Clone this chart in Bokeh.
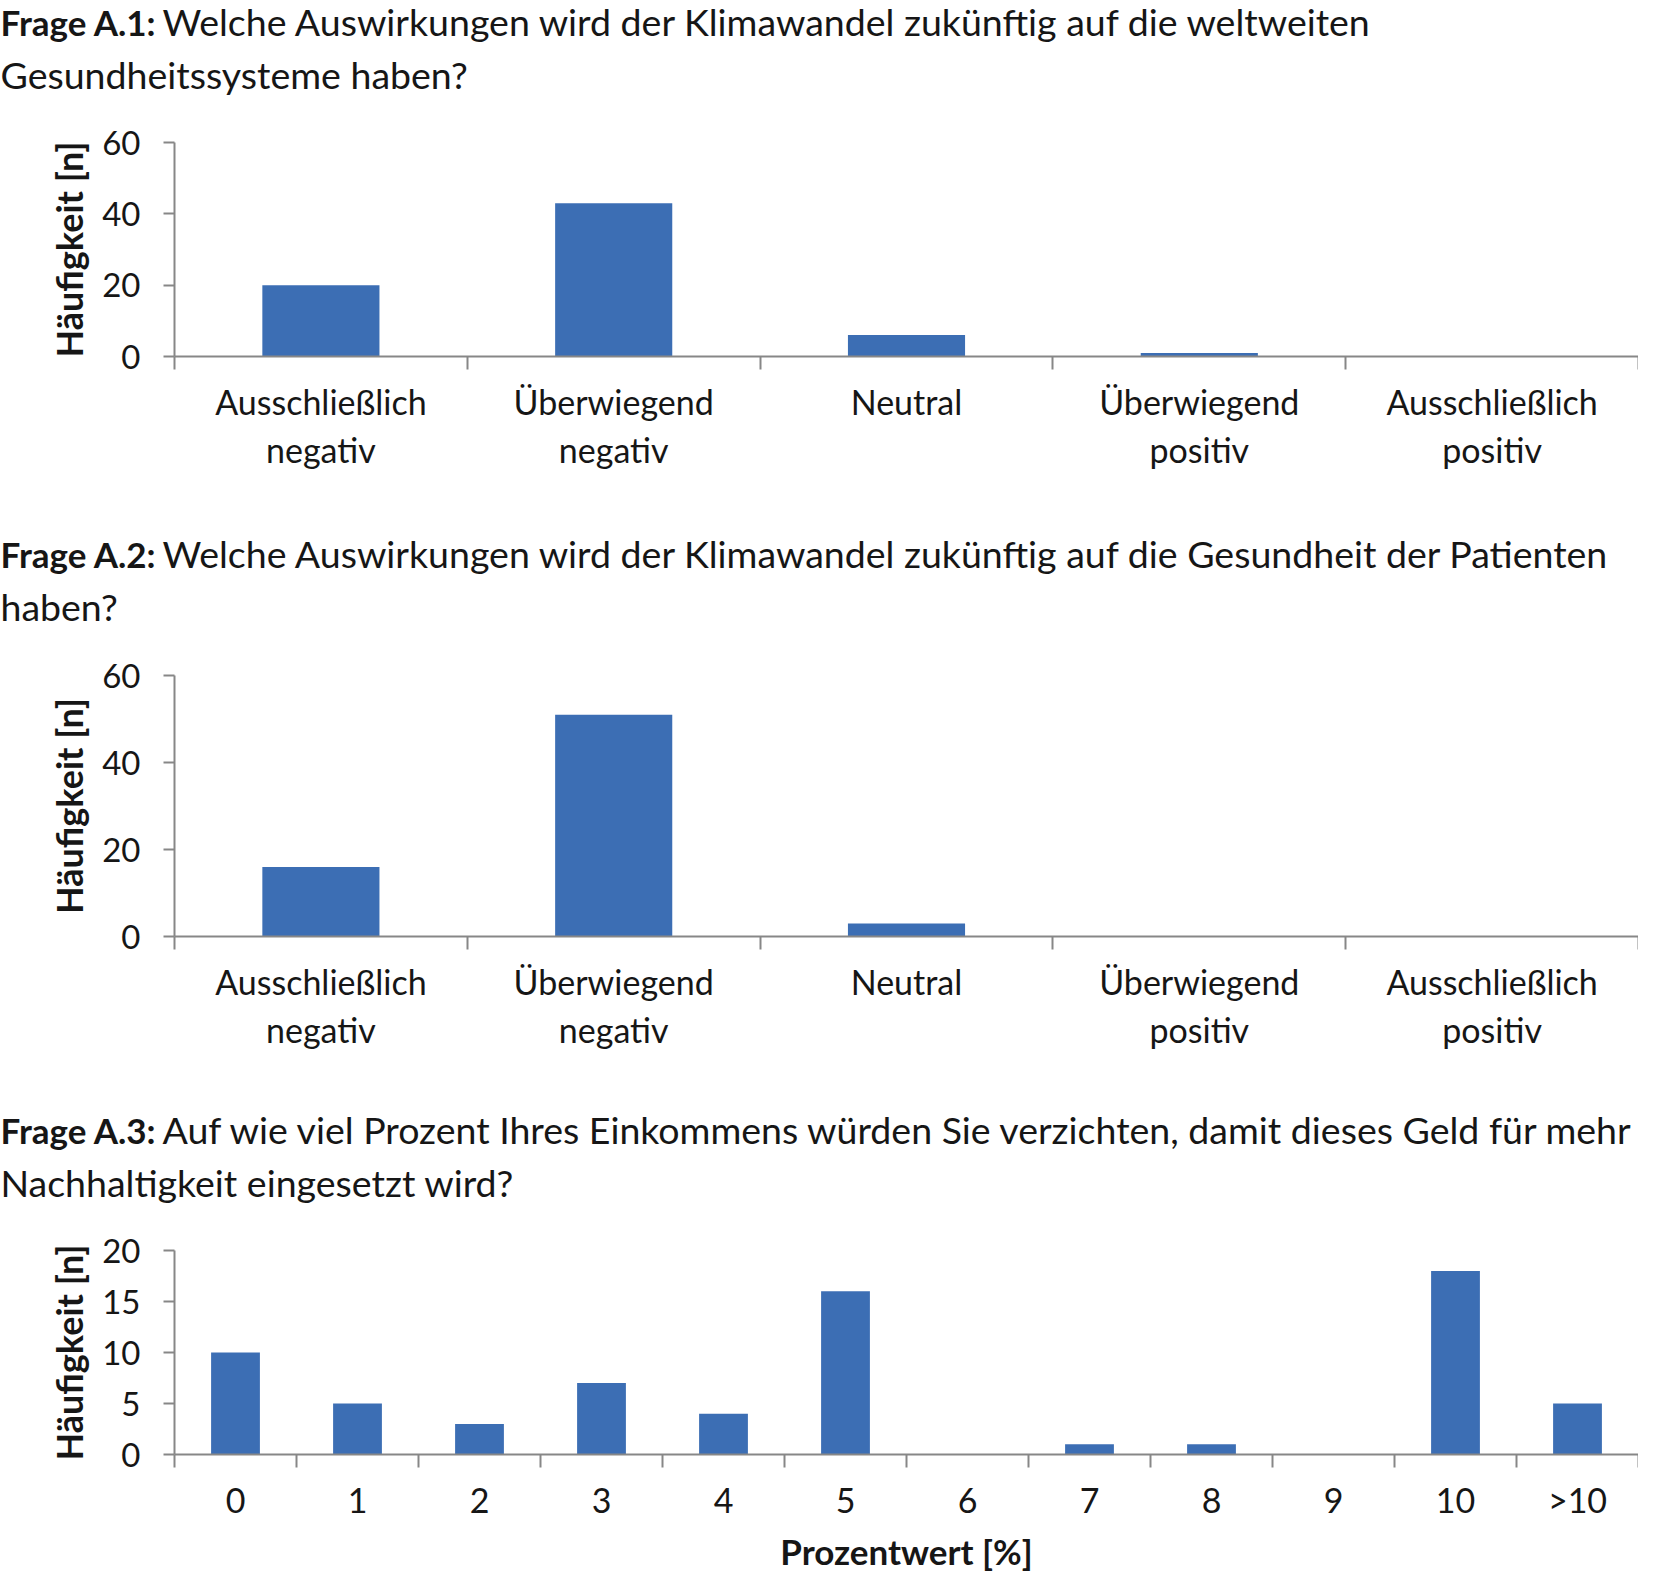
from bokeh.plotting import figure
from bokeh.models import Range1d, FixedTicker, Label, Plot
from bokeh.layouts import column
from bokeh.embed import file_html
from bokeh.resources import INLINE

# ---------------- data ----------------
categories_ab = ["Ausschließlich\nnegativ", "Überwiegend\nnegativ", "Neutral",
                 "Überwiegend\npositiv", "Ausschließlich\npositiv"]
a1_counts = [20, 43, 6, 1, 0]
a2_counts = [16, 51, 3, 0, 0]
a3_categories = ["0", "1", "2", "3", "4", "5", "6", "7", "8", "9", "10", ">10"]
a3_counts = [10, 5, 3, 7, 4, 16, 0, 1, 1, 0, 18, 5]
yticks_a12 = [0, 20, 40, 60]
yticks_a3 = [0, 5, 10, 15, 20]

titles = [
    ("Frage A.1:", "Welche Auswirkungen wird der Klimawandel zukünftig auf die weltweiten",
     "Gesundheitssysteme haben?"),
    ("Frage A.2:", "Welche Auswirkungen wird der Klimawandel zukünftig auf die Gesundheit der Patienten",
     "haben?"),
    ("Frage A.3:", "Auf wie viel Prozent Ihres Einkommens würden Sie verzichten, damit dieses Geld für mehr",
     "Nachhaltigkeit eingesetzt wird?"),
]
y_title = "Häufigkeit [n]"
x_title_a3 = "Prozentwert [%]"

# ---------------- style ----------------
FONT = "Lato"
BAR = "#3C6EB4"
AXIS = "#878787"
TXT = "#161616"
W = 1638
LEFT = 174
TITLE_BOLD_SIZE = "35px"
TITLE_SIZE = "37.5px"
XTICK_SIZE = "34px"
YTICK_SIZE = "33px"
YLABEL_SIZE = "36px"
XLABEL_SIZE = "35px"

HAS_FRAME_ALIGN = "frame_align" in Plot.properties()


def title_fig(h, parts, y1, y2, x_rest=162):
    kw = dict(frame_align=False) if HAS_FRAME_ALIGN else {}
    p = figure(width=W, height=h, x_range=Range1d(0, W), y_range=Range1d(h, 0),
               output_backend="svg", toolbar_location=None,
               min_border_left=0, min_border_right=0, min_border_top=0, min_border_bottom=0,
               x_axis_location=None, y_axis_location=None, outline_line_color=None, **kw)
    p.grid.visible = False
    bold, rest1, rest2 = parts
    common = dict(text_font=FONT, text_baseline="middle", text_color=TXT)
    p.add_layout(Label(x=0, y=y1, text=bold, text_font_style="bold",
                       text_font_size=TITLE_BOLD_SIZE, **common))
    p.add_layout(Label(x=x_rest, y=y1, text=rest1, text_font_size=TITLE_SIZE, **common))
    p.add_layout(Label(x=0, y=y2, text=rest2, text_font_size=TITLE_SIZE, **common))
    return p


def chart_fig(h, labels, counts, yend, yticks, top, bottom, xlabel=None):
    n = len(labels)
    centers = [i + 0.5 for i in range(n)]
    p = figure(width=W, height=h, x_range=Range1d(0, n), y_range=Range1d(0, yend),
               output_backend="svg", toolbar_location=None,
               min_border_left=LEFT, min_border_right=0,
               min_border_top=top, min_border_bottom=bottom,
               outline_line_color=None)
    p.grid.visible = False
    p.vbar(x=centers, top=counts, width=0.4, fill_color=BAR, line_color=None)

    xa = p.xaxis[0]
    xa.ticker = FixedTicker(ticks=centers, minor_ticks=list(range(n + 1)))
    xa.major_label_overrides = {c: l for c, l in zip(centers, labels)}
    xa.axis_line_color = AXIS
    xa.axis_line_width = 2
    xa.major_tick_in = 0
    xa.major_tick_out = 0
    xa.minor_tick_in = 0
    xa.minor_tick_out = 13
    xa.minor_tick_line_color = AXIS
    xa.minor_tick_line_width = 2
    xa.major_label_text_font = FONT
    xa.major_label_text_font_size = XTICK_SIZE
    xa.major_label_text_color = TXT
    xa.major_label_text_line_height = 1.175
    xa.major_label_standoff = 11
    if xlabel:
        xa.axis_label = xlabel
        xa.axis_label_text_font = FONT
        xa.axis_label_text_font_style = "bold"
        xa.axis_label_text_font_size = XLABEL_SIZE
        xa.axis_label_text_color = TXT
        xa.axis_label_standoff = 7

    ya = p.yaxis[0]
    ya.ticker = FixedTicker(ticks=yticks)
    ya.minor_tick_line_color = None
    ya.major_tick_in = 0
    ya.major_tick_out = 11
    ya.major_tick_line_color = AXIS
    ya.major_tick_line_width = 2
    ya.axis_line_color = AXIS
    ya.axis_line_width = 2
    ya.major_label_text_font = FONT
    ya.major_label_text_font_size = YTICK_SIZE
    ya.major_label_text_color = TXT
    ya.major_label_standoff = 23
    ya.axis_label = y_title
    ya.axis_label_text_font = FONT
    ya.axis_label_text_font_style = "bold"
    ya.axis_label_text_font_size = YLABEL_SIZE
    ya.axis_label_text_color = TXT
    ya.axis_label_standoff = 8
    return p


t1 = title_fig(110, titles[0], 21, 74)
c1 = chart_fig(395, categories_ab, a1_counts, 60, yticks_a12, 32, 149)
t2 = title_fig(135, titles[1], 48, 101)
c2 = chart_fig(436, categories_ab, a2_counts, 60, yticks_a12, 35, 140)
t3 = title_fig(134, titles[2], 53, 106)
c3 = chart_fig(365, a3_categories, a3_counts, 20, yticks_a3, 40, 121, xlabel=x_title_a3)

layout = column(t1, c1, t2, c2, t3, c3, spacing=0)
open("out.html", "w").write(file_html(layout, INLINE))
